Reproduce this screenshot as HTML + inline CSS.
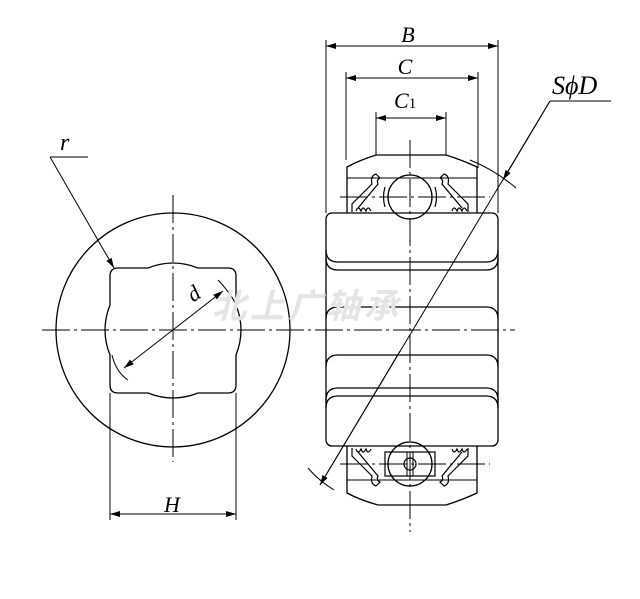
<!DOCTYPE html>
<html><head><meta charset="utf-8"><style>
html,body{margin:0;padding:0;background:#fff;}
svg{display:block;}
text{font-family:"Liberation Serif",serif;font-style:italic;fill:#000;}
</style></head><body>
<svg width="640" height="599" viewBox="0 0 640 599" xmlns="http://www.w3.org/2000/svg">
<defs>
<marker id="a" viewBox="0 0 10 6" refX="10" refY="3" markerWidth="10" markerHeight="6" orient="auto-start-reverse" markerUnits="userSpaceOnUse"><path d="M0,0 L10,3 L0,6 z" fill="#000"/></marker>
</defs>
<g fill="none" stroke="#000" stroke-width="1.3">
<circle cx="173" cy="330" r="117"/>
<path d="M118,268 L148,268 Q173,258 198,268 L228,268 Q236,268 236,276 L236,305 Q246,330 236,355 L236,385 Q236,393 228,393 L198,393 Q173,403 148,393 L118,393 Q110,393 110,385 L110,355 Q100,330 110,305 L110,276 Q110,268 118,268 Z"/>
<path d="M218,280 Q232,295 236,305" stroke-width="1"/>
<path d="M112,355 Q116,372 128,380" stroke-width="1"/>
<rect x="326" y="213" width="172" height="233" rx="6"/>
<path d="M326,250 Q326,262 338,262 H486 Q498,262 498,250"/>
<path d="M326,258 Q326,270 338,270 H486 Q498,270 498,258"/>
<path d="M326,319 Q326,307 338,307 H486 Q498,307 498,319"/>
<path d="M326,367 Q326,355 338,355 H486 Q498,355 498,367"/>
<path d="M326,400 Q326,388 338,388 H486 Q498,388 498,400"/>
<path d="M326,408 Q326,396 338,396 H486 Q498,396 498,408"/>
<path d="M347,213 V167 Q360,160 376,155 H446 Q462,160 477,167 V213"/>
<line x1="347" y1="178" x2="477" y2="178" stroke-width="1"/>
<circle cx="410" cy="197" r="22"/>
<path d="M385,187 q-3,10 0,20 M435,187 q3,10 0,20" stroke-width="1.2"/>
<path d="M352,212 v-8 l20,-20 q-2,-8 4,-10 l4,4 q-4,2 -2,6 l-20,24" stroke-width="1.2"/>
<path d="M468,212 v-8 l-20,-20 q2,-8 -4,-10 l-4,4 q4,2 2,6 l20,24" stroke-width="1.2"/>
<path d="M356,211 q2,-6 5,0 q2,-6 5,0 q2,-6 5,0" stroke-width="1.2"/>
<path d="M452,211 q2,-6 5,0 q2,-6 5,0 q2,-6 5,0" stroke-width="1.2"/>
<path d="M347,446 V493 Q360,500 378,505 H446 Q462,500 477,493 V446"/>
<line x1="347" y1="480" x2="477" y2="480" stroke-width="1"/>
<circle cx="410" cy="464" r="22"/>
<rect x="385" y="452" width="50" height="24" stroke-width="1.2"/>
<circle cx="410" cy="464" r="6" stroke-width="1.2"/>
<path d="M407,452 v24 M413,452 v24" stroke-width="1"/>
<path d="M352,448 v8 l20,20 q-2,8 4,10 l4,-4 q-4,-2 -2,-6 l-20,-24" stroke-width="1.2"/>
<path d="M468,448 v8 l-20,20 q2,8 -4,10 l-4,-4 q4,-2 2,-6 l20,-24" stroke-width="1.2"/>
<path d="M356,449 q2,6 5,0 q2,6 5,0 q2,6 5,0" stroke-width="1.2"/>
<path d="M452,449 q2,6 5,0 q2,6 5,0 q2,6 5,0" stroke-width="1.2"/>
</g>
<g fill="none" stroke="#000" stroke-width="1">
<line x1="42" y1="330" x2="515" y2="330" stroke-dasharray="28,4,3,4"/>
<line x1="173" y1="195" x2="173" y2="462" stroke-dasharray="28,4,3,4"/>
<line x1="410" y1="140" x2="410" y2="532" stroke-dasharray="28,4,3,4"/>
<line x1="340" y1="197" x2="490" y2="197" stroke-dasharray="28,4,3,4"/>
<line x1="340" y1="464" x2="490" y2="464" stroke-dasharray="28,4,3,4"/>
<line x1="326" y1="40" x2="326" y2="213"/>
<line x1="498" y1="40" x2="498" y2="213"/>
<line x1="346" y1="72" x2="346" y2="160"/>
<line x1="478" y1="72" x2="478" y2="168"/>
<line x1="376" y1="112" x2="376" y2="155"/>
<line x1="446" y1="112" x2="446" y2="155"/>
<line x1="110" y1="393" x2="110" y2="520"/>
<line x1="236" y1="393" x2="236" y2="520"/>
<line x1="326" y1="46" x2="498" y2="46" marker-start="url(#a)" marker-end="url(#a)"/>
<line x1="346" y1="78" x2="478" y2="78" marker-start="url(#a)" marker-end="url(#a)"/>
<line x1="376" y1="118" x2="446" y2="118" marker-start="url(#a)" marker-end="url(#a)"/>
<line x1="110" y1="514" x2="236" y2="514" marker-start="url(#a)" marker-end="url(#a)"/>
<line x1="124" y1="368" x2="223" y2="291" marker-start="url(#a)" marker-end="url(#a)"/>
<line x1="50" y1="157" x2="88" y2="157"/>
<line x1="50" y1="157" x2="114" y2="268" marker-end="url(#a)"/>
<line x1="550" y1="101" x2="611" y2="101"/>
<line x1="550" y1="101" x2="320" y2="485"/>
<line x1="550" y1="101" x2="503" y2="180" marker-end="url(#a)"/>
<line x1="400" y1="351" x2="320" y2="485" marker-end="url(#a)"/>
<path d="M470,160 Q495,170 516,188"/>
<path d="M308,468 Q318,480 334,490"/>
</g>
<text x="408" y="42" font-size="22" text-anchor="middle">B</text>
<text x="405" y="74" font-size="22" text-anchor="middle">C</text>
<text x="394" y="108" font-size="22">C<tspan font-size="15" font-style="normal">1</tspan></text>
<text x="552" y="94" font-size="26">SϕD</text>
<text x="60" y="150" font-size="24">r</text>
<text x="172" y="512" font-size="22" text-anchor="middle">H</text>
<text x="188" y="300" font-size="22" transform="rotate(-35 195 293)">d</text>
<text x="212" y="318" font-size="34" font-weight="bold" style="fill:#e4e4e4;font-family:'Noto Sans CJK SC',sans-serif;" letter-spacing="4">北上广轴承</text>
</svg>
</body></html>
